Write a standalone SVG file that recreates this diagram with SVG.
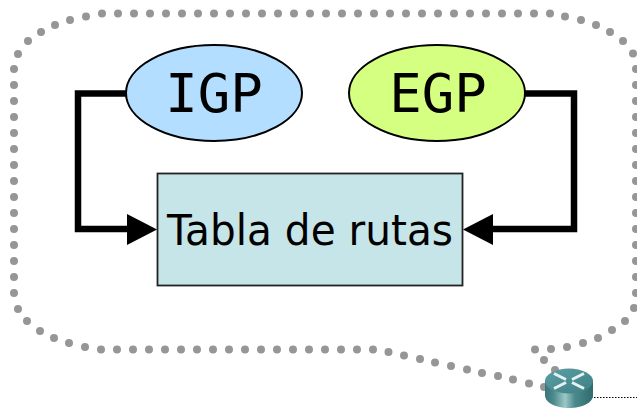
<svg xmlns="http://www.w3.org/2000/svg" width="637" height="409" viewBox="0 0 637 409">
<style>
.dots{fill:none;stroke:#969696;stroke-width:8;stroke-linecap:round}
.wire{fill:none;stroke:#000;stroke-width:6.500;stroke-linejoin:miter}
.node{stroke:#000;stroke-width:2}
.box{stroke:#222;stroke-width:1.800}
text{fill:#000;text-anchor:middle}
.lbl{font-family:"DejaVu Sans",sans-serif;font-size:43px}
.mono{font-family:"DejaVu Sans Mono",monospace;font-size:54px}
</style>
<defs>
<linearGradient id="body" x1="0" x2="1" y1="0" y2="0">
<stop offset="0" stop-color="#3a7478"/><stop offset=".18" stop-color="#4c8a8c"/><stop offset=".42" stop-color="#9cc8c6"/><stop offset=".62" stop-color="#4b8a8c"/><stop offset="1" stop-color="#2f6a6e"/>
</linearGradient>
<linearGradient id="top" x1="0" x2="1" y1="0" y2="1">
<stop offset="0" stop-color="#5b9fa3"/><stop offset="1" stop-color="#3f7f86"/>
</linearGradient>
</defs>
<g id="callout">
<path class="dots" d="M102 13.5h0M118 13.5h0M134 13.5h0M150 13.5h0M166 13.5h0M182 13.5h0M198 13.5h0M214 13.5h0M230 13.5h0M246 13.5h0M262 13.5h0M278 13.5h0M294 13.5h0M310 13.5h0M326 13.5h0M342 13.5h0M358 13.5h0M374 13.5h0M390 13.5h0M406 13.5h0M422 13.5h0M438 13.5h0M454 13.5h0M470 13.5h0M486 13.5h0M502 13.5h0M518 13.5h0M534 13.5h0M550 13.5h0
M565 16.5h0M581 20h0M596 25h0M610 32h0M623 41h0M633 53.500h0
M86 16.500h0M70 20h0M55 25h0M41 32h0M28 41h0M18 54h0
M14 69h0M14 85h0M14 101h0M14 117h0M14 133h0M14 149h0M14 165h0M14 181h0M14 197h0M14 213h0M14 229h0M14 245h0M14 261h0M14 277h0M14 293h0
M636 69h0M636 85h0M636 101h0M636 117h0M636 133h0M636 149h0M636 165h0M636 181h0M636 197h0M636 213h0M636 229h0M636 245h0M636 261h0M636 277h0M636 293h0
M18 309h0M27 321h0M40 331h0M54 338h0M69 343h0M85 347h0
M101 349.500h0M117 349.500h0M133 349.500h0M149 349.500h0M165 349.500h0M181 349.500h0M197 349.500h0M213 349.500h0M229 349.500h0M245 349.500h0M261 349.500h0M277 349.500h0M293 349.500h0M309 349.500h0M325 349.500h0M341 349.500h0M357 349.500h0M373 349.500h0
M388.500 352h0M404 355.500h0M420 359h0M435 362.500h0M451 366h0M467 369.500h0M482 373h0M498 376h0M513 379.500h0M529 383.500h0M544 387h0
M535 349.500h0M551 349h0M567 347h0M583 343h0M598 338h0M612 330h0M625 321h0M634 308h0
M544 360h0M555 370h0"/>
</g>
<g id="connectors">
<path class="wire" d="M126 93.500H78V229H130"/>
<path d="M127 214L157 229.500L127 245Z"/>
<path class="wire" d="M525 93.500H574V229H490"/>
<path d="M493 214L463 229.500L493 245Z"/>
<path d="M576 397.500H637" fill="none" stroke="#000" stroke-width="1.200" stroke-dasharray="1.500 1.500"/>
</g>
<g id="igp">
<ellipse class="node" cx="214" cy="93" rx="88" ry="48" fill="#b3deff"/>
<text class="mono" x="214" y="112">IGP</text>
</g>
<g id="egp">
<ellipse class="node" cx="437" cy="93" rx="88" ry="48" fill="#d4ff80"/>
<text class="mono" x="438" y="112">EGP</text>
</g>
<g id="tabla">
<rect class="box" x="157.500" y="173.500" width="305" height="112" fill="#c6e5e8"/>
<text class="lbl" x="310" y="245" textLength="286" lengthAdjust="spacingAndGlyphs">Tabla de rutas</text>
</g>
<g id="router">
<path d="M545 381V395C545 403 556 408 569 408S593 403 593 395V381Z" fill="url(#body)"/>
<ellipse cx="569" cy="381" rx="24" ry="12.500" fill="url(#top)"/>
<path d="M554 373.500L566 379.500M572 382.500L584 388.500M584 373.500L572 379.500M566 382.500L554 388.500" stroke="#e4f2f2" stroke-width="3" fill="none"/>
</g>
</svg>
